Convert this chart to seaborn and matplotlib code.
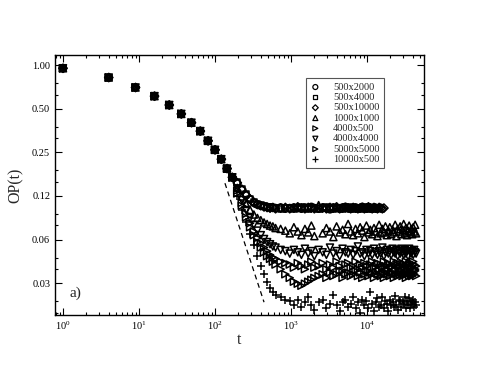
import seaborn as sns
import numpy as np
import pandas as pd
from matplotlib import pyplot as plt
from matplotlib import ticker

# shared time points
t_early = [1, 4, 9, 16, 25, 36, 49, 64, 81, 100, 121, 144, 169]
op_early = [0.95, 0.82, 0.70, 0.61, 0.53, 0.46, 0.40, 0.35, 0.30, 0.26, 0.224, 0.193, 0.168]

t_late = [196, 225, 256, 289, 324, 361, 400, 441, 484, 529, 576, 625,
          729, 841, 961, 1089, 1225, 1369, 1521, 1681, 1849, 2025,
          2304, 2601, 2916, 3249, 3600, 3969, 4356, 4761, 5184, 5625, 6084, 6561,
          7056, 7569, 8100, 8649, 9216, 9801, 10404, 11025, 11664, 12321, 12996,
          13689, 14400, 15129, 15876, 16641,
          17424, 18225, 19044, 19881, 20736, 21609, 22500, 23409, 24336, 25281,
          26244, 27225, 28224, 29241, 30276, 31329, 32400, 33489, 34596, 35721,
          36864, 38025, 39204, 40401, 41616, 42849, 44100]

op_500x2000 = [0.152, 0.137, 0.126, 0.118, 0.112, 0.109, 0.107, 0.106, 0.105, 0.104,
               0.104, 0.103, 0.104, 0.102, 0.103, 0.104, 0.103, 0.102, 0.104, 0.103,
               0.105, 0.103, 0.102, 0.104, 0.103, 0.101, 0.104, 0.103, 0.102, 0.104,
               0.105, 0.103, 0.102, 0.103, 0.104, 0.102, 0.103, 0.105, 0.103, 0.102,
               0.104, 0.103, 0.102, 0.104, 0.103]
op_500x4000 = [0.156, 0.140, 0.128, 0.120, 0.114, 0.110, 0.108, 0.106, 0.105, 0.105,
               0.104, 0.103, 0.102, 0.104, 0.103, 0.102, 0.104, 0.105, 0.103, 0.102,
               0.103, 0.104, 0.102, 0.103, 0.105, 0.104, 0.102, 0.103, 0.104, 0.102,
               0.103, 0.104, 0.105, 0.102, 0.103, 0.104, 0.103, 0.102, 0.104, 0.103,
               0.105, 0.102, 0.103, 0.104, 0.102, 0.103, 0.104]
op_500x10000 = [0.154, 0.139, 0.127, 0.119, 0.113, 0.109, 0.107, 0.105, 0.104, 0.103,
                0.104, 0.102, 0.103, 0.104, 0.102, 0.103, 0.105, 0.103, 0.102, 0.104,
                0.103, 0.102, 0.104, 0.103, 0.102, 0.104, 0.103, 0.105, 0.102, 0.103,
                0.104, 0.103, 0.102, 0.104, 0.103, 0.102, 0.103, 0.104, 0.102, 0.103,
                0.105, 0.103, 0.102, 0.104, 0.103, 0.102, 0.104, 0.103, 0.102, 0.103]
op_1000x1000 = [0.142, 0.124, 0.110, 0.100, 0.093, 0.088, 0.085, 0.082, 0.080, 0.078,
                0.077, 0.075, 0.074,
                0.072, 0.069, 0.076, 0.071, 0.067, 0.074, 0.070, 0.078, 0.066, 0.108,
                0.069, 0.075, 0.071, 0.065, 0.077, 0.070, 0.073, 0.068, 0.080, 0.071,
                0.067, 0.074, 0.069, 0.076, 0.072, 0.065, 0.078, 0.070, 0.073, 0.068,
                0.075, 0.071, 0.066, 0.079, 0.069, 0.074, 0.070, 0.077, 0.067, 0.072,
                0.076, 0.068, 0.073, 0.070, 0.079, 0.066, 0.074, 0.071, 0.077, 0.068,
                0.073, 0.080, 0.069, 0.075, 0.067, 0.072, 0.078, 0.070, 0.074, 0.068,
                0.076, 0.071, 0.079, 0.069]
op_4000x500 = [0.136, 0.112, 0.094, 0.081, 0.071, 0.064, 0.059, 0.055, 0.052, 0.049,
               0.047, 0.046, 0.044,
               0.043, 0.042, 0.040, 0.043, 0.041, 0.039, 0.042, 0.044, 0.040, 0.041,
               0.043, 0.039, 0.042, 0.040, 0.044, 0.041, 0.038, 0.042, 0.043, 0.040,
               0.041, 0.044, 0.039, 0.042, 0.040, 0.043, 0.041, 0.038, 0.042, 0.044,
               0.040, 0.041, 0.043, 0.039, 0.042, 0.040, 0.044, 0.041, 0.039, 0.043,
               0.042, 0.040, 0.041, 0.044, 0.039, 0.042, 0.043, 0.040, 0.041, 0.038,
               0.043, 0.042, 0.040, 0.044, 0.041, 0.039, 0.042, 0.043, 0.040, 0.041,
               0.044, 0.042, 0.039, 0.041]
op_4000x4000 = [0.140, 0.117, 0.100, 0.088, 0.079, 0.072, 0.067, 0.063, 0.060, 0.058,
                0.056, 0.055, 0.053,
                0.052, 0.050, 0.053, 0.051, 0.049, 0.054, 0.050, 0.052, 0.048, 0.053,
                0.051, 0.049, 0.055, 0.050, 0.052, 0.048, 0.054, 0.051, 0.050, 0.053,
                0.049, 0.052, 0.056, 0.050, 0.051, 0.048, 0.053, 0.050, 0.052, 0.049,
                0.054, 0.051, 0.049, 0.052, 0.050, 0.055, 0.048, 0.051, 0.053, 0.050,
                0.052, 0.049, 0.054, 0.051, 0.050, 0.053, 0.048, 0.052, 0.050, 0.054,
                0.051, 0.049, 0.053, 0.050, 0.052, 0.048, 0.054, 0.051, 0.050, 0.052,
                0.049, 0.053, 0.051, 0.050]
op_5000x5000 = [0.130, 0.107, 0.089, 0.076, 0.067, 0.060, 0.055, 0.051, 0.048, 0.046,
                0.044, 0.042, 0.039,
                0.036, 0.034, 0.032, 0.031, 0.030, 0.031, 0.032, 0.033, 0.034, 0.035,
                0.036, 0.034, 0.037, 0.035, 0.036, 0.038, 0.034, 0.036, 0.037, 0.035,
                0.036, 0.038, 0.035, 0.037, 0.034, 0.036, 0.038, 0.035, 0.037, 0.036,
                0.034, 0.037, 0.036, 0.038, 0.035, 0.036, 0.034, 0.037, 0.036, 0.038,
                0.035, 0.037, 0.036, 0.034, 0.038, 0.036, 0.035, 0.037, 0.036, 0.038,
                0.035, 0.036, 0.037, 0.034, 0.036, 0.038, 0.035, 0.037, 0.036, 0.035,
                0.037, 0.036, 0.038, 0.035]
op_10000x500 = [0.125, 0.100, 0.082, 0.068, 0.057, 0.048, 0.041, 0.036, 0.032, 0.029,
                0.027, 0.026, 0.025,
                0.024, 0.0235, 0.022, 0.024, 0.0215, 0.023, 0.025, 0.022, 0.0205, 0.023,
                0.024, 0.021, 0.0225, 0.026, 0.022, 0.020, 0.023, 0.024, 0.0215, 0.0225,
                0.025, 0.021, 0.023, 0.0195, 0.024, 0.022, 0.0235, 0.021, 0.027, 0.0225,
                0.020, 0.023, 0.0245, 0.0215, 0.022, 0.025, 0.021, 0.0235, 0.0225, 0.020,
                0.024, 0.022, 0.023, 0.0215, 0.0255, 0.022, 0.0205, 0.0235, 0.024, 0.0215,
                0.023, 0.0225, 0.025, 0.021, 0.0235, 0.022, 0.0245, 0.021, 0.023, 0.0225,
                0.024, 0.0215, 0.023, 0.022]

series = [
    ('500x2000', 'o', op_500x2000),
    ('500x4000', 's', op_500x4000),
    ('500x10000', 'D', op_500x10000),
    ('1000x1000', '^', op_1000x1000),
    ('4000x500', '>', op_4000x500),
    ('4000x4000', 'v', op_4000x4000),
    ('5000x5000', '>', op_5000x5000),
    ('10000x500', '+', op_10000x500),
]

# dashed guide line end points
guide_t = [135, 441]
guide_op = [0.153, 0.0231]

sns.set_theme(style='ticks')
plt.rcParams['font.family'] = ['Liberation Serif', 'DejaVu Serif']
plt.rcParams['mathtext.fontset'] = 'stix'

fig = plt.figure(figsize=(4.91, 3.82), dpi=100)
ax = fig.add_axes([0.112, 0.175, 0.7515, 0.6806])

for name, marker, vals in series:
    df = pd.DataFrame({'t': t_early + t_late[:len(vals)], 'op': op_early + vals})
    if marker == '+':
        sns.scatterplot(data=df, x='t', y='op', marker=marker, s=36, color='black',
                        linewidth=1.1, ax=ax, label=name)
    else:
        size = 18 if marker in ('s', 'D') else 26
        sns.scatterplot(data=df, x='t', y='op', marker=marker, s=size, fc='none',
                        ec='black', linewidth=1.1, ax=ax, label=name)

sns.lineplot(x=guide_t, y=guide_op, color='black', lw=0.9, ax=ax, legend=False)
ax.lines[-1].set_dashes((4, 3))

ax.set_xscale('log')
ax.set_yscale('log')
ax.set_xlim(0.785, 56000)
ax.set_ylim(0.0188, 1.17)

ax.xaxis.set_major_locator(ticker.LogLocator(base=10, numticks=10))
ax.xaxis.set_minor_locator(ticker.LogLocator(base=10, subs=np.arange(2, 10), numticks=10))
ax.xaxis.set_major_formatter(ticker.LogFormatterMathtext())
ax.xaxis.set_minor_formatter(ticker.NullFormatter())

ymaj = [1.0, 0.5, 0.25, 0.125, 0.0625, 0.03125]
ymin = [v * f for v in ymaj for f in (0.75, 0.625)]
ax.yaxis.set_major_locator(ticker.FixedLocator(ymaj))
ax.yaxis.set_major_formatter(ticker.FixedFormatter(['1.00', '0.50', '0.25', '0.12', '0.06', '0.03']))
ax.yaxis.set_minor_locator(ticker.FixedLocator(ymin))
ax.yaxis.set_minor_formatter(ticker.NullFormatter())

ax.tick_params(which='both', direction='in', top=True, right=True, colors='black',
               labelsize=7.5, width=0.8)
ax.tick_params(which='major', length=5)
ax.tick_params(which='minor', length=2.5)
for sp in ax.spines.values():
    sp.set_color('black')
    sp.set_linewidth(1.0)

ax.set_xlabel('t', fontsize=11.5, labelpad=0)
ax.set_ylabel('OP(t)', fontsize=11.5, labelpad=6)
ax.text(0.04, 0.085, 'a)', transform=ax.transAxes, fontsize=11, ha='left', va='center')

leg = ax.legend(loc='upper right', bbox_to_anchor=(0.905, 0.931), fontsize=7.5,
                labelspacing=0.1, handletextpad=1.2, borderpad=0.4, fancybox=False,
                framealpha=1, edgecolor='#555555', markerscale=0.7, handlelength=1.0)
leg.get_frame().set_linewidth(0.8)
for h in leg.legend_handles:
    h.set_linewidth(0.9)

fig.savefig('out.png', dpi=100)
